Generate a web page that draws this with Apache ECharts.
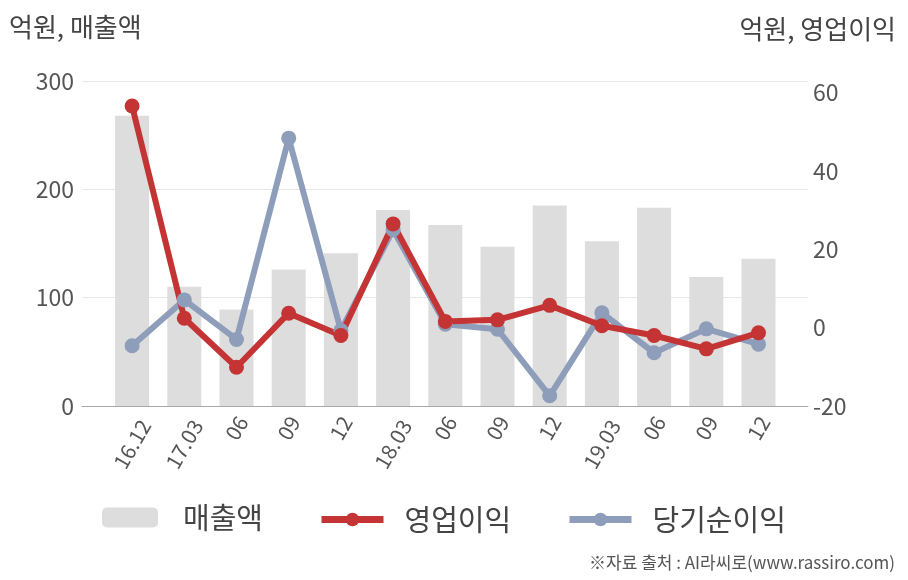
<!DOCTYPE html>
<html>
<head>
<meta charset="utf-8">
<script src="https://cdn.jsdelivr.net/npm/echarts@6/dist/echarts.min.js"></script>
<style>
html,body{margin:0;padding:0;background:#fff;}
#c{width:908px;height:580px;}
</style>
</head>
<body>
<div id="c"></div>
<script>
const categories = ['16.12','17.03','06','09','12','18.03','06','09','12','19.03','06','09','12'];
const sales = [268, 110, 89, 126, 141, 181, 167, 147, 185, 152, 183, 119, 136];
const operatingProfit = [56.6, 2.4, -10.1, 3.7, -2.0, 26.5, 1.6, 2.0, 5.7, 0.5, -2.0, -5.4, -1.3];
const netProfit = [-4.6, 7.1, -3.0, 48.4, -0.7, 25.0, 0.9, -0.4, -17.4, 3.8, -6.4, -0.3, -4.2];
const leftTicks = {min: 0, max: 300, interval: 100};
const rightTicks = {min: -20, max: 63, interval: 20};

const FONT = '"Noto Sans CJK KR", "Noto Sans", sans-serif';
const RED = '#c43434';
const BLUE = '#8e9dba';
const chart = echarts.init(document.getElementById('c'), null, {renderer: 'canvas'});
const lineLegendText = {fontSize: 29, color: '#444', fontFamily: FONT, padding: [0, 0, 0, 16]};
const barLegendText = {fontSize: 29, color: '#444', fontFamily: FONT, padding: [0, 0, 0, 20]};
const option = {
  backgroundColor: '#fff',
  animation: false,
  textStyle: {fontFamily: FONT},
  graphic: [
    {type: 'text', left: 9, top: 14, style: {text: '억원, 매출액', font: '26px ' + FONT, fill: '#444'}},
    {type: 'text', right: 12, top: 16, style: {text: '억원, 영업이익', font: '26px ' + FONT, fill: '#444'}},
    {type: 'text', right: 13, top: 554, style: {text: '※자료 출처 : AI라씨로(www.rassiro.com)', font: '17px ' + FONT, fill: '#555'}}
  ],
  grid: [
    {left: 82, right: 100, top: 81, bottom: 174},
    {left: 106, right: 123.4, top: 81, bottom: 174}
  ],
  legend: [
    {data: ['매출액'], left: 102, top: 503, padding: 0, itemWidth: 56, itemHeight: 20, textStyle: barLegendText},
    {data: ['영업이익'], left: 318, top: 505, padding: 0, itemWidth: 62, itemHeight: 17, textStyle: lineLegendText,
     lineStyle: {width: 7}},
    {data: ['당기순이익'], left: 566, top: 505, padding: 0, itemWidth: 62, itemHeight: 17, textStyle: lineLegendText,
     lineStyle: {width: 7}}
  ],
  xAxis: [
    {type: 'category', gridIndex: 0, data: [''], axisLine: {show: true, lineStyle: {color: '#aaa', width: 1}},
     axisTick: {show: false}, axisLabel: {show: false}, splitLine: {show: false}},
    {type: 'category', gridIndex: 1, data: categories, boundaryGap: true,
     axisLine: {show: false}, axisTick: {show: false}, splitLine: {show: false},
     axisLabel: {rotate: 60, fontSize: 21, color: '#555', margin: 22, interval: 0, fontFamily: FONT,
       align: 'center', verticalAlign: 'middle',
       formatter: function (v) { return v.length > 2 ? '{l|' + v + '}' : '{s|' + v + '}'; },
       rich: {
         l: {fontSize: 21, color: '#555', fontFamily: FONT, padding: [16, 28, 0, 0]},
         s: {fontSize: 21, color: '#555', fontFamily: FONT}
       }}}
  ],
  yAxis: [
    {type: 'value', gridIndex: 0, position: 'left', min: leftTicks.min, max: leftTicks.max, interval: leftTicks.interval,
     axisLine: {show: false}, axisTick: {show: false},
     axisLabel: {fontSize: 23, color: '#555', margin: 8, fontFamily: FONT},
     splitLine: {show: true, lineStyle: {color: '#e6e6e6', width: 1}}},
    {type: 'value', gridIndex: 0, position: 'right', min: rightTicks.min, max: rightTicks.max, interval: rightTicks.interval,
     axisLine: {show: false}, axisTick: {show: false},
     axisLabel: {fontSize: 23, color: '#555', margin: 5, showMaxLabel: false, fontFamily: FONT},
     splitLine: {show: false}},
    {type: 'value', gridIndex: 1, min: leftTicks.min, max: leftTicks.max, show: false, splitLine: {show: false}},
    {type: 'value', gridIndex: 1, min: rightTicks.min, max: rightTicks.max, show: false, splitLine: {show: false}}
  ],
  series: [
    {name: '매출액', type: 'bar', xAxisIndex: 1, yAxisIndex: 2, data: sales, barWidth: 34,
     itemStyle: {color: '#dddddd'}},
    {name: '당기순이익', type: 'line', xAxisIndex: 1, yAxisIndex: 3, data: netProfit,
     symbol: 'circle', symbolSize: 15, color: BLUE,
     lineStyle: {width: 6, color: BLUE}, itemStyle: {color: BLUE}},
    {name: '영업이익', type: 'line', xAxisIndex: 1, yAxisIndex: 3, data: operatingProfit,
     symbol: 'circle', symbolSize: 15, color: RED,
     lineStyle: {width: 6, color: RED}, itemStyle: {color: RED}}
  ]
};
chart.setOption(option);
</script>
</body>
</html>
